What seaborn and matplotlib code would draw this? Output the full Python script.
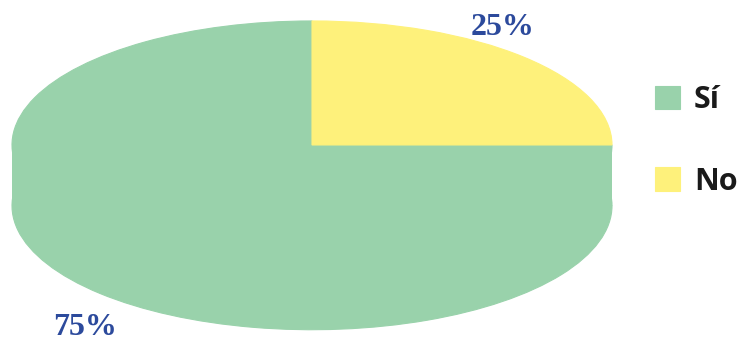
import matplotlib
matplotlib.use("Agg")
import matplotlib.pyplot as plt
import seaborn as sns

# Survey answers
categories = ["Sí", "No"]
shares = [75, 25]
slice_colors = ["#99D2AB", "#FEF17B"]
label_color = "#2C4A9C"

sns.set_theme(style="white")
plt.rcParams["font.family"] = ["Open Sans", "DejaVu Sans"]
palette = sns.color_palette(slice_colors)

fig = plt.figure(figsize=(7.38, 3.43), dpi=100)
ax = fig.add_axes([0, 0, 1, 1])

depth = 0.49  # thickness of the disc, in units of the vertical radius
side_color = palette[0]

# bottom rim of the disc
ax.pie(shares, colors=[side_color, side_color], startangle=0,
       counterclock=False, center=(0, -depth),
       wedgeprops=dict(linewidth=0.8, edgecolor=side_color))
# vertical side of the disc
ax.fill_between([-1, 1], -depth, 0, color=side_color, linewidth=0)
# top face
wedges, _ = ax.pie(shares, colors=palette, startangle=0, counterclock=False,
                   wedgeprops=dict(linewidth=0.8))
for w in wedges:
    w.set_edgecolor(w.get_facecolor())

ax.set_xlim(-1.04, 1.42)
ax.set_ylim(-1.597, 1.169)
ax.set_aspect("auto")
ax.axis("off")

# percentage labels
label_pos = {"Sí": (-0.755, -1.475), "No": (0.635, 0.950)}
for cat, val in zip(categories, shares):
    x, y = label_pos[cat]
    ax.text(x, y, f"{val}%", ha="center", va="center",
            fontsize=23, fontweight="bold", color=label_color,
            family=["Liberation Serif", "DejaVu Serif"])

leg = fig.legend(wedges, categories, loc="upper left",
                 bbox_to_anchor=(655 / 738, 1 - 85 / 343),
                 bbox_transform=fig.transFigure, frameon=False,
                 borderpad=0, borderaxespad=0, fontsize=22,
                 handlelength=0.82, handleheight=0.82, handletextpad=0.45,
                 labelspacing=1.7)
for t in leg.get_texts():
    t.set_fontweight("bold")
    t.set_color("#1A1A1A")

fig.savefig("out.png", dpi=100)
